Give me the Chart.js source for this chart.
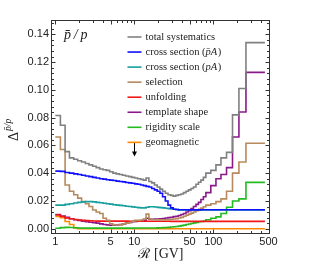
<!DOCTYPE html>
<html><head><meta charset="utf-8">
<script src="https://cdn.jsdelivr.net/npm/chart.js@4.4.1/dist/chart.umd.min.js"></script>
<style>html,body{margin:0;padding:0;background:#fff;}canvas{display:block;}</style>
</head><body>
<canvas id="c" width="317" height="280"></canvas>
<script>
// Rigidity bin edges [GV] (57 bins)
const rigidityEdges = [1.00,1.16,1.33,1.51,1.71,1.92,2.15,2.40,2.67,2.97,3.29,3.64,4.02,4.43,4.88,5.37,5.90,6.47,7.09,7.76,8.48,9.26,10.1,11.0,12.0,13.0,14.1,15.3,16.6,18.0,19.5,21.1,22.8,24.7,26.7,28.8,31.1,33.5,36.1,38.9,41.9,45.1,48.5,52.2,56.1,60.3,64.8,69.7,74.9,80.5,93.0,108,125,147,175,211,259,450];

const totalSyst = [0.0815,0.0745,0.0555,0.051,0.050,0.049,0.048,0.047,0.046,0.045,
  0.044,0.043,0.0425,0.042,0.041,0.040,0.0395,0.039,0.0385,0.038,
  0.0375,0.037,0.0365,0.036,0.0355,0.035,0.0365,0.034,0.033,0.0315,
  0.030,0.0285,0.027,0.0255,0.0245,0.024,0.0235,0.024,0.0245,0.025,
  0.026,0.027,0.028,0.029,0.030,0.032,0.0335,0.035,0.037,0.040,
  0.042,0.046,0.051,0.055,0.082,0.101,0.134];
const crossPbarA = [0.0415,0.0413,0.0405,0.0400,0.0395,0.0390,0.0385,0.0380,0.0375,0.0370,
  0.0365,0.0360,0.0357,0.0353,0.0350,0.0347,0.0343,0.0340,0.0337,0.0333,
  0.0330,0.0327,0.0323,0.0320,0.0315,0.0310,0.0305,0.0300,0.0290,0.0280,
  0.0270,0.0255,0.0230,0.0200,0.0170,0.0150,0.0140,0.0138,0.0137,0.0137,
  0.0137,0.0137,0.0136,0.0136,0.0136,0.0136,0.0136,0.0137,0.0137,0.0137,
  0.0137,0.0137,0.0137,0.0137,0.0137,0.0137,0.0137];
const crossPA = [0.0170,0.0170,0.0175,0.0180,0.0185,0.0190,0.0193,0.0195,0.0195,0.0193,
  0.0190,0.0187,0.0183,0.0180,0.0177,0.0173,0.0170,0.0168,0.0165,0.0162,
  0.0160,0.0157,0.0155,0.0152,0.0150,0.0150,0.0155,0.0158,0.0158,0.0156,
  0.0154,0.0152,0.0150,0.0147,0.0145,0.0142,0.0140,0.0138,0.0136,0.0135,
  0.0135,0.0135,0.0135,0.0135,0.0135,0.0135,0.0135,0.0135,0.0135,0.0135,
  0.0135,0.0135,0.0135,0.0135,0.0135,0.0135,0.0135];
const selection = [0.066,0.057,0.0315,0.027,0.0245,0.022,0.0195,0.018,0.016,0.0135,
  0.012,0.011,0.0075,0.006,0.0035,0.0027,0.0027,0.0028,0.0035,0.004,
  0.0045,0.0055,0.006,0.006,0.0063,0.007,0.0105,0.007,0.0065,0.0065,
  0.0065,0.0065,0.0065,0.0065,0.0065,0.0068,0.007,0.0073,0.0077,0.0082,
  0.009,0.0098,0.0105,0.0112,0.012,0.013,0.014,0.0148,0.0158,0.017,
  0.018,0.0195,0.0215,0.027,0.040,0.048,0.0615];
const unfolding = [0.0099,0.0088,0.0078,0.0072,0.0066,0.0063,0.0060,0.0058,0.0057,0.0056,
  0.0055,0.0055,0.0055,0.0055,0.0055,0.0055,0.0055,0.0055,0.0055,0.0055,
  0.0054,0.0054,0.0054,0.0054,0.0054,0.0054,0.0054,0.0054,0.0054,0.0054,
  0.0054,0.0054,0.0054,0.0054,0.0054,0.0053,0.0053,0.0053,0.0053,0.0053,
  0.0053,0.0053,0.0053,0.0053,0.0053,0.0053,0.0053,0.0053,0.0053,0.0053,
  0.0053,0.0053,0.0053,0.0053,0.0053,0.0053,0.0053];
const templateShape = [0.0102,0.0092,0.0082,0.0072,0.0065,0.0060,0.0055,0.0050,0.0047,0.0043,
  0.0040,0.0035,0.0030,0.0028,0.0025,0.0025,0.0027,0.0030,0.0035,0.0040,
  0.0045,0.0050,0.0053,0.0055,0.0057,0.0060,0.0075,0.0068,0.0068,0.0070,
  0.0070,0.0072,0.0074,0.0077,0.0080,0.0083,0.0087,0.0090,0.0095,0.0102,
  0.0110,0.0120,0.0130,0.0145,0.0160,0.0175,0.0190,0.0210,0.0230,0.0260,
  0.0310,0.0360,0.0390,0.0440,0.0660,0.0840,0.1126];
const rigidityScale = [0.0003,0.0008,0.0010,0.0009,0.0007,0.0005,0.0004,0.0004,0.0004,0.0004,
  0.0004,0.0004,0.0004,0.0004,0.0004,0.0004,0.0004,0.0004,0.0004,0.0004,
  0.0004,0.0004,0.0005,0.0005,0.0005,0.0005,0.0005,0.0005,0.0005,0.0005,
  0.0006,0.0007,0.0008,0.0009,0.0010,0.0012,0.0014,0.0016,0.0019,0.0022,
  0.0026,0.0030,0.0034,0.0038,0.0042,0.0046,0.0050,0.0052,0.0056,0.0065,
  0.0075,0.0085,0.0110,0.0155,0.0200,0.0215,0.0334];
const geomagnetic = [0.0088,0.0080,0.0052,0.0030,0.0006,0.0001,0,0,0,0,
  0,0,0,0,0,0,0,0,0,0, 0,0,0,0,0,0,0,0,0,0, 0,0,0,0,0,0,0,0,0,0,
  0,0,0,0,0,0,0,0,0,0, 0,0,0,0,0,0,0];

const seriesLabels = ['total systematics','cross section (p\u0304A)','cross section (pA)','selection','unfolding','template shape','rigidity scale','geomagnetic'];
const xTickValues = [1,5,10,50,100,500];
const xTickLabels = ['1','5','10','50','100','500'];
const xMinorValues = [2,3,4,6,7,8,9,20,30,40,60,70,80,90,200,300,400];
const yTickValues = [0,0.02,0.04,0.06,0.08,0.10,0.12,0.14];
const yTickLabels = ['0.00','0.02','0.04','0.06','0.08','0.10','0.12','0.14'];
const arrowRigidity = 10, arrowTop = 0.062, arrowBottom = 0.052;

const colors = ['#808080','#1010ff','#179e9e','#b68a5e','#f01818','#8a1a8a','#22bb22','#ff8a00'];
const allSeries = [totalSyst,crossPbarA,crossPA,selection,unfolding,templateShape,rigidityScale,geomagnetic];

function histPoints(vals){
  const pts = vals.map((v,i)=>({x: rigidityEdges[i], y: v}));
  pts.push({x: rigidityEdges[vals.length], y: vals[vals.length-1]});
  return pts;
}

const SERIF = "'Liberation Serif','DejaVu Serif',serif";
const SANS = "'Liberation Sans',Arial,sans-serif";

const decorPlugin = {
  id:'decor',
  afterDatasetsDraw(chart){
    const ctx = chart.ctx, a = chart.chartArea;
    const xs = chart.scales.x, ys = chart.scales.y;
    ctx.save();
    ctx.strokeStyle = '#333'; ctx.lineWidth = 1;
    const L = a.left - 0.5, R = a.right - 0.5, T = a.top + 0.5, B = a.bottom - 0.5;
    ctx.strokeRect(L, T, R - L, B - T);
    ctx.beginPath();
    const xt = (v, len) => { const p = Math.round(xs.getPixelForValue(v)) + 0.5; ctx.moveTo(p, B); ctx.lineTo(p, B - len); ctx.moveTo(p, T); ctx.lineTo(p, T + len); };
    const yt = (v, len) => { const p = Math.round(ys.getPixelForValue(v)) + 0.5; ctx.moveTo(L, p); ctx.lineTo(L + len, p); ctx.moveTo(R, p); ctx.lineTo(R - len, p); };
    xTickValues.forEach(v => xt(v, 4));
    xMinorValues.forEach(v => xt(v, 2.5));
    yTickValues.forEach(v => yt(v, 4));
    for (let k = 1; k < 38; k++) { if (k % 5 !== 0) yt(k * 0.004, 2.5); }
    ctx.stroke();
    const ax = Math.round(xs.getPixelForValue(arrowRigidity)) + 0.5;
    const ay1 = ys.getPixelForValue(arrowTop), ay2 = ys.getPixelForValue(arrowBottom);
    ctx.strokeStyle = '#000'; ctx.fillStyle = '#000'; ctx.lineWidth = 1;
    ctx.beginPath(); ctx.moveTo(ax, ay1); ctx.lineTo(ax, ay2 - 3); ctx.stroke();
    ctx.beginPath(); ctx.moveTo(ax - 2.5, ay2 - 5); ctx.lineTo(ax + 2.5, ay2 - 5); ctx.lineTo(ax, ay2); ctx.closePath(); ctx.fill();
    const lx0 = 127.5, lx1 = 141.5, tx = 145.5, ly0 = 37, lstep = 15.05;
    ctx.textBaseline = 'alphabetic'; ctx.textAlign = 'left';
    chart.data.datasets.forEach((ds, i) => {
      const y = ly0 + i * lstep;
      ctx.strokeStyle = ds.borderColor; ctx.lineWidth = 1.6;
      ctx.beginPath(); ctx.moveTo(lx0, y); ctx.lineTo(lx1, y); ctx.stroke();
      ctx.fillStyle = '#222';
      const lab = ds.label;
      const m = lab.match(/^(.*\()(.*)(\))$/);
      ctx.font = '10.5px ' + SERIF;
      if (m) {
        let x = tx;
        ctx.fillText(m[1], x, y + 3); x += ctx.measureText(m[1]).width;
        ctx.font = 'italic 10.5px ' + SERIF;
        ctx.fillText(m[2], x, y + 3); x += ctx.measureText(m[2]).width + 0.5;
        ctx.font = '10.5px ' + SERIF;
        ctx.fillText(m[3], x, y + 3);
      } else {
        ctx.fillText(lab, tx, y + 3);
      }
    });
    ctx.fillStyle = '#222';
    ctx.font = 'italic 14px ' + SERIF;
    ctx.fillText('p\u0304\u2009/\u2009p', 64, 38.5);
    ctx.translate(17.5, 141);
    ctx.rotate(-Math.PI / 2);
    ctx.font = '14px ' + SERIF;
    ctx.fillText('\u0394', 0, 0);
    const w = ctx.measureText('\u0394').width;
    ctx.font = 'italic 9.5px ' + SERIF;
    ctx.fillText('p\u0304/p', w + 1, -7);
    ctx.restore();
  }
};

new Chart(document.getElementById('c'), {
  type: 'line',
  data: {
    datasets: allSeries.map((vals, i) => ({
      label: seriesLabels[i],
      data: histPoints(vals),
      borderColor: colors[i],
      borderWidth: 1.6,
      pointRadius: 0,
      fill: false,
      stepped: 'before',
      tension: 0
    }))
  },
  options: {
    responsive: false, animation: false, devicePixelRatio: 1,
    layout: { padding: { top: 20, right: 47, left: 0, bottom: 0 } },
    plugins: { legend: { display: false }, tooltip: { enabled: false } },
    scales: {
      x: {
        type: 'logarithmic', min: 0.908, max: 522,
        grid: { display: false, drawTicks: false }, border: { display: false },
        afterBuildTicks: s => { s.ticks = xTickValues.map(v => ({ value: v })); },
        afterFit: s => { s.height = 46; },
        ticks: { autoSkip: false, maxRotation: 0, padding: 1, color: '#222',
          font: { family: SANS, size: 11 }, callback: (v, i) => xTickLabels[i] },
        title: { display: true, text: '\u211B [GV]', color: '#222',
          font: { family: SERIF, size: 14 }, padding: { top: 0, bottom: 17 } }
      },
      y: {
        type: 'linear', min: -0.0038, max: 0.1503,
        grid: { display: false, drawTicks: false }, border: { display: false },
        afterBuildTicks: s => { s.ticks = yTickValues.map(v => ({ value: v })); },
        afterFit: s => { s.width = 52; },
        ticks: { padding: 3, color: '#222', font: { family: SANS, size: 11 },
          callback: (v, i) => yTickLabels[i] }
      }
    }
  },
  plugins: [decorPlugin]
});
</script>
</body></html>
